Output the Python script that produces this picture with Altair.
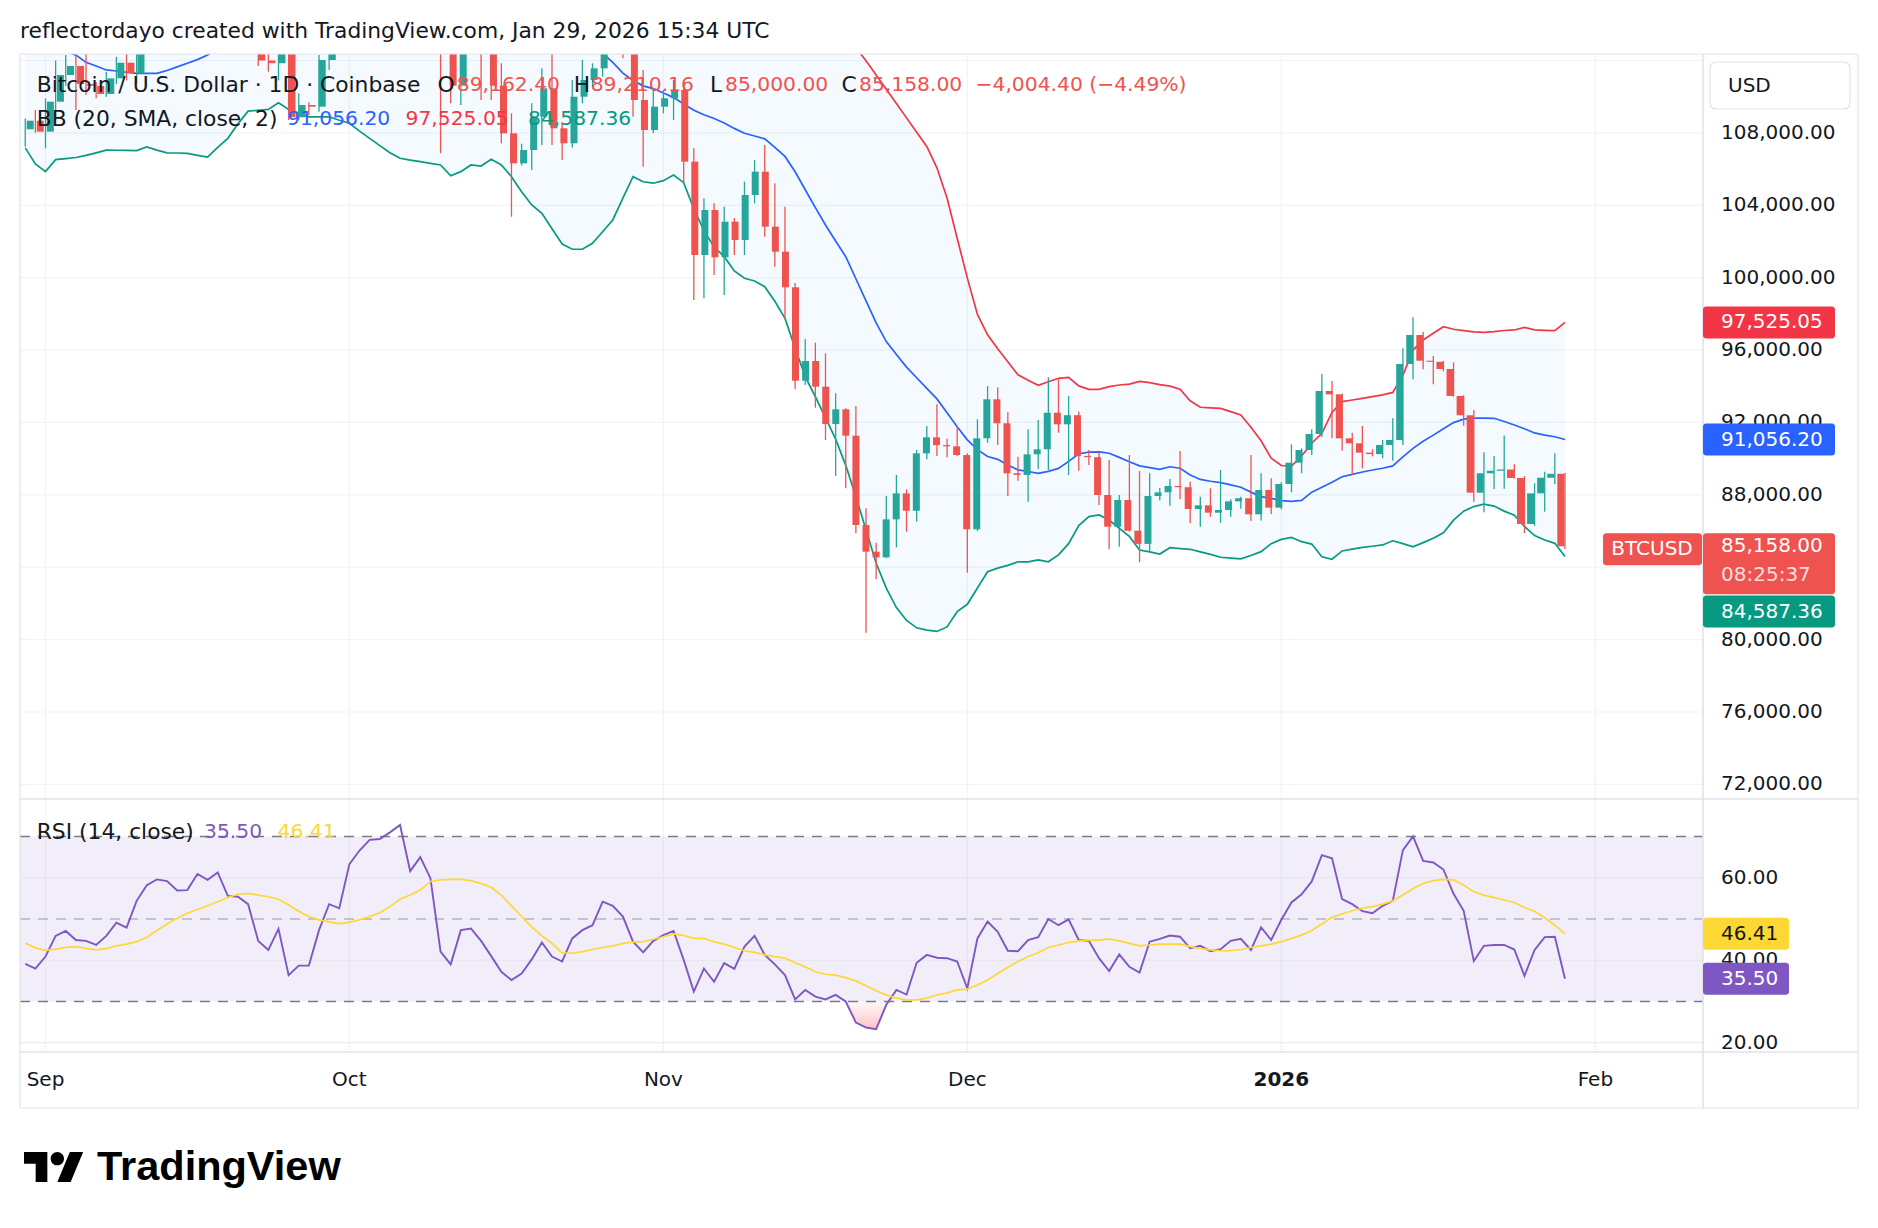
import altair as alt
import pandas as pd

# ------------------------------------------------------------------ data
dates = pd.date_range("2025-08-30", periods=153, freq="D").strftime("%Y-%m-%d").tolist()

open_ = [108199, 108674, 108066, 109724, 111200, 111700, 110700, 110600, 110150, 111017,
         111880, 111293, 113900, 115400, 116000, 115900, 115300, 115400, 116800, 116500,
         117100, 115700, 115750, 115300, 112000, 111850, 113300, 108862, 109542, 109448,
         112029, 114300, 114000, 118600, 120600, 122300, 122400, 123500, 124800, 121400,
         123300, 121700, 113200, 110609, 115200, 115300, 113100, 110609, 107978, 106320,
         107055, 108895, 110465, 108254, 107425, 110000, 110923, 111570, 114500, 114100,
         112900, 109818, 108160, 109448, 109912, 110371, 106409, 101253, 103740, 101126,
         103093, 102082, 104568, 105856, 102817, 101436, 99469, 94306, 95395, 93975,
         91914, 92726, 91268, 86332, 84857, 84547, 86645, 88082, 87121, 90295,
         91179, 90750, 90680, 90200, 86095, 91124, 93279, 91953, 89190, 89100,
         90238, 90515, 92538, 91897, 92400, 90150, 90080, 87990, 86237, 87714,
         86017, 85288, 87934, 88139, 88487, 88420, 87216, 87420, 87013, 87160,
         87640, 87810, 86924, 88267, 87290, 88598, 89775, 90477, 91361, 93737,
         93553, 91123, 90847, 90330, 90250, 90754, 91030, 95229, 96832, 95411,
         95350, 94953, 93460, 92395, 88118, 89190, 89330, 89400, 88932, 86388,
         88082, 88945, 89162.40]
high_ = [108800, 109265, 109900, 112000, 112300, 112300, 113300, 110800, 111382, 112200,
         113200, 114300, 115500, 116300, 116700, 116100, 116700, 117000, 117300, 117900,
         117500, 116300, 115900, 115400, 113300, 113900, 113500, 110186, 109700, 112305,
         114400, 114800, 118700, 121000, 123900, 122900, 125700, 126200, 125200, 124200,
         123800, 122500, 113400, 115700, 116000, 115900, 113600, 111846, 109083, 107400,
         109636, 111570, 114000, 108600, 110923, 112029, 111846, 115000, 116400, 116000,
         113600, 111476, 110371, 110371, 110923, 110700, 107149, 104386, 104110, 103922,
         103300, 105307, 106502, 107331, 105215, 103922, 99700, 96611, 96408, 95820,
         93610, 92780, 92908, 87255, 85354, 87934, 89095, 88306, 90480, 91802,
         92999, 91100, 91802, 90295, 92174, 94014, 93942, 92561, 90107, 91620,
         92135, 94494, 94384, 93461, 92600, 90477, 90383, 89924, 87990, 90201,
         89317, 89190, 88380, 88874, 90420, 88727, 87898, 88360, 89372, 87750,
         87898, 90201, 89190, 88911, 88700, 90792, 90570, 91620, 94676, 94290,
         93600, 91434, 91803, 90520, 91030, 92229, 96098, 97810, 97015, 95670,
         95400, 95320, 93500, 92687, 90350, 90145, 91280, 89687, 89040, 88638,
         89278, 90294, 89210.16]
low_ = [107237, 108000, 107149, 108700, 110600, 109265, 110094, 109912, 110000, 110700,
        110900, 110741, 113400, 114800, 115300, 114800, 114300, 114800, 114900, 116200,
        115200, 115600, 115200, 111700, 111380, 110900, 108713, 108713, 108989, 109172,
        111476, 112700, 113900, 118400, 119300, 121600, 122200, 123100, 120600, 121100,
        119700, 106872, 109636, 109542, 113700, 109818, 109818, 107425, 103369, 106200,
        105950, 107331, 107331, 106502, 107200, 109636, 110553, 111106, 113800, 112122,
        108895, 106133, 108000, 109083, 108713, 105215, 98766, 98860, 100147, 99042,
        101253, 101253, 104110, 102264, 100606, 97755, 93831, 94069, 92815, 91030,
        89040, 88361, 85874, 80381, 83332, 84492, 85100, 85962, 86530, 89963,
        90145, 90070, 90145, 83697, 86000, 90880, 90754, 87934, 88781, 87621,
        89427, 89370, 91433, 89094, 89330, 89648, 87437, 84996, 85133, 85963,
        84271, 84857, 87680, 87400, 87750, 86425, 86237, 86790, 86460, 86790,
        87234, 86554, 86580, 86941, 87200, 88140, 89190, 90200, 91200, 91123,
        90440, 89096, 89465, 90130, 90020, 89885, 90750, 94383, 94936, 94107,
        94830, 93422, 91820, 87620, 87034, 88305, 88340, 88900, 85874, 86290,
        87068, 88582, 85000.00]
close_ = [108674, 108066, 109724, 111200, 111700, 110700, 110600, 110150, 111017, 111880,
          111293, 113900, 115400, 116000, 115900, 115300, 115400, 116800, 116500, 117100,
          115700, 115750, 115300, 112000, 111850, 113300, 108862, 109542, 109448, 112029,
          114300, 114000, 118600, 120600, 122300, 122400, 123500, 124800, 121400, 123300,
          121700, 113200, 110609, 115200, 115300, 113100, 110609, 107978, 106320, 107055,
          108895, 110465, 108254, 107425, 110000, 110923, 111570, 114500, 114100, 112900,
          109818, 108160, 109448, 109912, 110371, 106409, 101253, 103740, 101126, 103093,
          102082, 104568, 105856, 102817, 101436, 99469, 94306, 95395, 93975, 91914,
          92726, 91268, 86332, 84857, 84547, 86645, 88082, 87121, 90295, 91179,
          90750, 90680, 90200, 86095, 91124, 93279, 91953, 89190, 89100, 90238,
          90515, 92538, 91897, 92400, 90150, 90080, 87990, 86237, 87714, 86017,
          85288, 87934, 88139, 88487, 88420, 87216, 87420, 87013, 87160, 87640,
          87810, 86924, 88267, 87290, 88598, 89775, 90477, 91361, 93737, 93553,
          91123, 90847, 90330, 90250, 90754, 91030, 95229, 96832, 95411, 95350,
          94953, 93460, 92395, 88118, 89190, 89330, 89400, 88932, 86388, 88082,
          88945, 89162.40, 85158.00]

bb_upper = [119500, 119200, 119000, 118800, 118400, 118000, 117200, 116600, 116000, 115800, 115700, 115600,
            115400, 115500, 116000, 116500, 116900, 117400, 118000, 118300, 118500, 118600,
            118700, 119000, 119300, 119500, 120000, 120400, 120400, 120200, 120100, 120100,
            120400, 121200, 122400, 123800, 125100, 126200, 127000, 128000, 128800, 129100,
            129500, 129200, 128500, 128300, 127300, 126800, 126400, 126200, 126000, 125700,
            125700, 125700, 125200, 124500, 123500, 122300, 120600, 118200, 116200, 115900,
            115700, 115100, 114300, 114000, 114700, 115400, 115900, 115900, 116100, 116000,
            115800, 115900, 115700, 115700, 116000, 115000, 114200, 113600, 113300, 113100,
            112700, 111990, 111200, 110410, 109620, 108830, 108040, 107250, 106070, 104400,
            102180, 99990, 97970, 96840, 96070, 95350, 94630, 94330, 94050, 94250,
            94440, 94490, 94020, 93830, 93830, 93980, 94070, 94120, 94270, 94200,
            94090, 94010, 93840, 93200, 92840, 92810, 92780, 92600, 92410, 91730,
            90990, 90030, 89620, 89580, 90150, 90850, 91400, 92550, 93150, 93240,
            93330, 93430, 93520, 93660, 94600, 96000, 96560, 96930, 97290, 97150,
            97070, 97000, 96980, 97020, 97080, 97110, 97250, 97120, 97090, 97070, 97525.05]
bb_basis = [113600, 113300, 113000, 112700, 112500, 112300, 111900, 111700, 111480, 111420, 111350, 111290,
            111290, 111290, 111450, 111650, 111850, 112050, 112300, 112700, 113100, 113500,
            113900, 114200, 114400, 114600, 114700, 114700, 114600, 114500, 114450, 114400,
            114450, 114700, 115000, 115400, 115900, 116400, 116800, 117200, 117600, 117700,
            117600, 117500, 117300, 117200, 116900, 116500, 116000, 115500, 115000, 114600,
            114200, 113800, 113400, 113000, 112700, 112400, 111900, 111300, 110900, 110600,
            110450, 110200, 109950, 109600, 109250, 109000, 108800, 108550, 108250, 107980,
            107830, 107670, 107200, 106700, 105850, 104860, 103870, 102910, 102030, 101160,
            99940, 98720, 97500, 96470, 95750, 95060, 94470, 93880, 93300, 92540,
            91765, 91040, 90500, 90120, 89960, 89650, 89380, 89290, 89190, 89300,
            89460, 89850, 90270, 90360, 90370, 90300, 90070, 89830, 89600, 89500,
            89410, 89550, 89470, 89100, 88850, 88750, 88670, 88550, 88420, 88150,
            87900, 87800, 87680, 87640, 87690, 88150, 88420, 88700, 89000, 89130,
            89260, 89370, 89470, 89600, 90100, 90570, 90960, 91300, 91650, 91990,
            92180, 92240, 92240, 92230, 92050, 91860, 91650, 91420, 91300, 91210, 91056.20]
bb_lower = [107170, 106280, 105860, 106520, 106580, 106640, 106760, 106900, 107050, 107040, 107030, 107020,
            107220, 107050, 106900, 106890, 106870, 106760, 106660, 107200, 107700, 108500,
            109200, 109250, 109300, 109670, 109300, 109100, 108890, 108890, 108890, 108700,
            108530, 108100, 107700, 107300, 106900, 106600, 106500, 106410, 106320, 106230,
            105630, 105860, 106230, 106170, 106540, 106230, 105580, 104750, 104020, 103560,
            102700, 101860, 101570, 101570, 101900, 102540, 103190, 104400, 105580, 105300,
            105220, 105360, 105670, 105250, 103800, 102600, 101700, 101160, 100370, 99970,
            99820, 99500, 98700, 97750, 96100, 94530, 93420, 92270, 91075, 89630,
            87900, 86060, 84220, 82850, 81770, 81060, 80650, 80520, 80450, 80700,
            81550, 81950, 82850, 83750, 83950, 84100, 84300, 84300, 84400, 84300,
            84680, 85300, 86300, 86800, 86890, 86610, 86150, 85700, 84950, 84850,
            84730, 85080, 85030, 84990, 84850, 84710, 84550, 84500, 84460, 84650,
            84860, 85300, 85540, 85650, 85410, 85280, 84580, 84440, 84900, 85000,
            85100, 85160, 85230, 85460, 85300, 85130, 85360, 85600, 85900, 86600,
            87100, 87350, 87490, 87380, 87100, 86880, 86250, 85750, 85500, 85320, 84587.36]

rsi = [39.1, 38.0, 40.9, 45.9, 47.1, 44.9, 44.7, 43.7, 45.9, 49.1, 47.9, 54.4,
       58.2, 59.6, 59.2, 56.9, 57.0, 60.9, 59.5, 61.3, 55.6, 55.4,
       53.6, 44.7, 42.5, 47.6, 36.4, 38.7, 38.7, 47.3, 53.6, 52.6,
       63.3, 66.6, 69.2, 69.4, 71.0, 72.8, 61.6, 65.0, 59.9, 42.1,
       39.0, 47.3, 47.7, 44.7, 41.0, 37.2, 35.2, 36.8, 40.2, 44.3,
       40.9, 39.7, 45.3, 47.3, 48.5, 54.2, 53.2, 50.6, 44.5, 41.9,
       44.7, 46.1, 47.1, 40.1, 32.4, 38.0, 34.8, 39.3, 37.9, 43.3,
       45.9, 41.3, 39.0, 36.4, 30.5, 32.8, 31.2, 30.5, 31.6, 30.0,
       24.9, 23.7, 23.3, 29.2, 32.8, 31.7, 39.4, 41.3, 40.6, 40.5,
       39.7, 33.2, 45.3, 49.4, 46.9, 42.3, 42.2, 44.9, 45.6, 50.0,
       48.5, 49.9, 44.9, 44.7, 40.5, 37.4, 41.4, 38.4, 37.0, 44.5,
       45.2, 46.0, 45.7, 42.9, 43.5, 42.2, 42.7, 44.7, 45.2, 42.5,
       48.0, 44.9, 49.8, 54.0, 56.0, 59.1, 65.5, 64.7, 54.8, 53.6,
       51.9, 51.4, 53.2, 54.4, 66.7, 70.0, 64.1, 63.7, 62.0, 56.1,
       52.0, 39.8, 43.5, 43.7, 43.7, 42.6, 36.2, 42.5, 45.6, 45.7, 35.50]
rsi_ma = [44.2, 43.0, 42.4, 42.7, 43.1, 43.3, 42.9, 42.5, 42.8, 43.5, 43.9, 44.5,
          45.6, 47.2, 48.8, 50.2, 51.4, 52.3, 53.2, 54.2, 55.2, 56.0,
          56.2, 55.8, 55.4, 54.8, 53.4, 51.9, 50.6, 49.8, 49.3, 48.9,
          49.2, 49.8, 50.6, 51.5, 53.0, 54.8, 55.8, 57.0, 59.1, 59.5,
          59.6, 59.6, 59.3, 58.6, 57.7, 55.8, 53.2, 50.6, 48.1, 45.9,
          44.1, 41.8, 41.7, 42.1, 42.6, 43.1, 43.5, 44.1, 44.4, 44.5,
          45.1, 45.7, 46.4, 46.0, 45.3, 45.3, 44.5, 43.9, 43.1, 42.3,
          41.9, 41.3, 40.9, 40.5, 39.4, 38.4, 37.2, 36.6, 36.4, 35.8,
          35.0, 33.8, 32.6, 31.6, 30.8, 30.4, 30.4, 30.8, 31.6, 32.1,
          32.8, 33.0, 34.0, 35.2, 36.8, 38.3, 39.7, 40.9, 41.8, 43.1,
          43.7, 44.3, 44.7, 44.9, 44.9, 45.2, 44.7, 44.1, 43.5, 43.7,
          43.9, 43.9, 43.9, 43.3, 42.9, 42.5, 42.3, 42.3, 42.6, 43.1,
          43.5, 43.9, 44.5, 45.3, 46.1, 47.2, 48.8, 50.4, 51.2, 52.0,
          52.6, 53.0, 53.6, 54.4, 55.8, 57.4, 58.6, 59.3, 59.6, 59.5,
          58.2, 56.6, 55.8, 55.2, 54.6, 54.0, 52.8, 51.9, 50.3, 48.5, 46.41]

price_grid = [72000, 76000, 80000, 84000, 88000, 92000, 96000, 100000, 104000, 108000, 112000]
price_ticks = [72000, 76000, 80000, 88000, 92000, 96000, 100000, 104000, 108000]  # 84,000 sits under the badges
rsi_ticks = [20, 40, 60]
month_dates = ["2025-09-01", "2025-10-01", "2025-11-01", "2025-12-01", "2026-01-01", "2026-02-01"]
month_labels = ["Sep", "Oct", "Nov", "Dec", "2026", "Feb"]
month_bold = [False, False, False, False, True, False]
countdown = "08:25:37"

# ------------------------------------------------------------------ layout / style
W, H = 1683, 998
PRICE_DOM, PRICE_RNG = [71302, 112360], [743, 0]
RSI_DOM, RSI_RNG = [17.76, 79.09], [998, 745]
PPU = (PRICE_DOM[1] - PRICE_DOM[0]) / (PRICE_RNG[0] - PRICE_RNG[1])
RPU = (RSI_DOM[1] - RSI_DOM[0]) / (RSI_RNG[0] - RSI_RNG[1])

UP, DOWN = "#26A69A", "#EF5350"
BB_UP, BB_MID, BB_LO = "#F23645", "#2962FF", "#089981"
RSI_C, MA_C = "#7E57C2", "#FDD835"
TXT, GRID, SEP = "#131722", "#F0F3FA", "#E0E3EB"
FONT = "DejaVu Sans"

XS = alt.Scale(type="utc",
               domain=[alt.DateTime(year=2025, month=8, date=29, hours=11, minutes=35, utc=True),
                       alt.DateTime(year=2026, month=2, date=11, hours=15, utc=True)],
               range=[0, W], nice=False)
PS = alt.Scale(domain=PRICE_DOM, range=PRICE_RNG, nice=False, zero=False)
RS = alt.Scale(domain=RSI_DOM, range=RSI_RNG, nice=False, zero=False)


def X():
    return alt.X("date:T", scale=XS, axis=None)


def YP(f):
    return alt.Y(f"{f}:Q", scale=PS, axis=None)


def YR(f):
    return alt.Y(f"{f}:Q", scale=RS, axis=None)


def PX(f="x"):
    return alt.X(f"{f}:Q", scale=None, axis=None)


def PY(f="y"):
    return alt.Y(f"{f}:Q", scale=None, axis=None)


one = pd.DataFrame({"k": [0]})
cdf = pd.DataFrame({"date": dates, "open": open_, "high": high_, "low": low_, "close": close_})
bdf = pd.DataFrame({"date": dates, "upper": bb_upper, "basis": bb_basis, "lower": bb_lower})
odf = pd.DataFrame({"date": dates, "rsi": rsi, "ma": rsi_ma})
mdf = pd.DataFrame({"date": month_dates, "label": month_labels, "bold": month_bold})

dircol = alt.condition("datum.close >= datum.open", alt.value(UP), alt.value(DOWN))

layers = []

# grids
layers.append(alt.Chart(pd.DataFrame({"v": price_grid})).mark_rule(color=GRID, strokeWidth=1.2)
              .encode(y=YP("v"), x=alt.value(0), x2=alt.value(W)))
layers.append(alt.Chart(mdf).mark_rule(color=GRID, strokeWidth=1.2)
              .encode(x=X(), y=alt.value(0), y2=alt.value(H)))

# RSI background band, grid and reference lines
layers.append(alt.Chart(pd.DataFrame({"hi": [70], "lo": [30]})).mark_rect(color=RSI_C, opacity=0.1)
              .encode(x=alt.value(0), x2=alt.value(W), y=YR("hi"), y2="lo:Q"))
layers.append(alt.Chart(pd.DataFrame({"v": rsi_ticks})).mark_rule(color="#E6E3EE", strokeWidth=1.2)
              .encode(y=YR("v"), x=alt.value(0), x2=alt.value(W)))
layers.append(alt.Chart(pd.DataFrame({"v": [70, 30]})).mark_rule(color="#787B86", strokeWidth=1.6, strokeDash=[10, 8])
              .encode(y=YR("v"), x=alt.value(0), x2=alt.value(W)))
layers.append(alt.Chart(pd.DataFrame({"v": [50]})).mark_rule(color="#B2B5BE", strokeWidth=1.6, strokeDash=[10, 8])
              .encode(y=YR("v"), x=alt.value(0), x2=alt.value(W)))

# Bollinger bands
layers.append(alt.Chart(bdf).mark_area(color="#2196F3", opacity=0.05, clip=True)
              .encode(x=X(), y=YP("upper"), y2="lower:Q"))
for col, c in (("upper", BB_UP), ("basis", BB_MID), ("lower", BB_LO)):
    layers.append(alt.Chart(bdf).mark_line(color=c, strokeWidth=1.7, clip=True)
                  .encode(x=X(), y=YP(col)))

# candles
layers.append(alt.Chart(cdf).mark_rule(strokeWidth=1.3, clip=True)
              .encode(x=X(), y=YP("low"), y2="high:Q", color=dircol))
layers.append(alt.Chart(cdf).mark_bar(size=7, clip=True)
              .encode(x=X(), y=YP("open"), y2="close:Q", color=dircol))

# RSI oversold fill + lines
grad = alt.Gradient(gradient="linear",
                    stops=[alt.GradientStop(color="rgba(242,54,69,0.03)", offset=0),
                           alt.GradientStop(color="rgba(242,54,69,0.30)", offset=1)],
                    x1=0, x2=0, y1=0, y2=1)
layers.append(alt.Chart(odf).transform_calculate(lo="min(datum.rsi, 30)", th="30")
              .mark_area(color=grad).encode(x=X(), y=YR("lo"), y2="th:Q"))
layers.append(alt.Chart(odf).mark_line(color=RSI_C, strokeWidth=1.9).encode(x=X(), y=YR("rsi")))
layers.append(alt.Chart(odf).mark_line(color=MA_C, strokeWidth=1.7).encode(x=X(), y=YR("ma")))

# frame and separators
layers.append(alt.Chart(one).mark_rect(fillOpacity=0, stroke=SEP, strokeWidth=1.2)
              .encode(x=alt.value(0), x2=alt.value(1838), y=alt.value(0), y2=alt.value(1054)))
layers.append(alt.Chart(one).mark_rule(color=SEP, strokeWidth=1.6)
              .encode(x=alt.value(W), y=alt.value(0), y2=alt.value(1054)))
for yy in (745, 998):
    layers.append(alt.Chart(one).mark_rule(color=SEP, strokeWidth=1.6)
                  .encode(y=alt.value(yy), x=alt.value(0), x2=alt.value(1838)))

# axis labels
layers.append(alt.Chart(pd.DataFrame({"v": price_ticks, "t": [f"{v:,.2f}" for v in price_ticks]}))
              .mark_text(align="left", baseline="middle", font=FONT, fontSize=20, color=TXT)
              .encode(x=alt.value(1701), y=YP("v"), text="t:N"))
layers.append(alt.Chart(pd.DataFrame({"v": rsi_ticks, "t": [f"{v:.2f}" for v in rsi_ticks]}))
              .mark_text(align="left", baseline="middle", font=FONT, fontSize=20, color=TXT)
              .encode(x=alt.value(1701), y=YR("v"), text="t:N"))
for is_bold in (False, True):
    layers.append(alt.Chart(mdf[mdf["bold"] == is_bold])
                  .mark_text(align="center", baseline="middle", font=FONT, fontSize=20, color=TXT,
                             fontWeight="bold" if is_bold else "normal")
                  .encode(x=X(), y=alt.value(1026), text="label:N"))

# USD box
layers.append(alt.Chart(one).mark_rect(color="white", stroke=SEP, strokeWidth=1.2, cornerRadius=6)
              .encode(x=alt.value(1690), x2=alt.value(1830), y=alt.value(8), y2=alt.value(55)))
layers.append(alt.Chart(one).mark_text(text="USD", align="left", baseline="middle", font=FONT, fontSize=20, color=TXT)
              .encode(x=alt.value(1708), y=alt.value(32)))

# price badges
last_o, last_h, last_l, last_c = open_[-1], high_[-1], low_[-1], close_[-1]
badge_rows = [
    (f"{bb_upper[-1]:,.2f}", bb_upper[-1], -16, 16, 0, BB_UP),
    (f"{bb_basis[-1]:,.2f}", bb_basis[-1], -16, 16, 0, BB_MID),
    (f"{last_c:,.2f}", last_c, -13, 48, 0, DOWN),
    (f"{bb_lower[-1]:,.2f}", bb_lower[-1], 39, 71, 55, BB_LO),
]
bdg = pd.DataFrame([{"t": t, "top": v - a * PPU, "bot": v - b * PPU, "ty": v - c * PPU, "fill": f}
                    for t, v, a, b, c, f in badge_rows])
layers.append(alt.Chart(bdg).mark_rect(cornerRadius=3)
              .encode(x=alt.value(W), x2=alt.value(1815), y=YP("top"), y2="bot:Q",
                      color=alt.Color("fill:N", scale=None)))
layers.append(alt.Chart(bdg).mark_text(align="left", baseline="middle", font=FONT, fontSize=20, color="white")
              .encode(x=alt.value(1701), y=YP("ty"), text="t:N"))
layers.append(alt.Chart(pd.DataFrame({"ty": [last_c - 29 * PPU], "t": [countdown]}))
              .mark_text(align="left", baseline="middle", font=FONT, fontSize=20, color="white", opacity=0.8)
              .encode(x=alt.value(1701), y=YP("ty"), text="t:N"))
# symbol badge
sym = pd.DataFrame({"top": [last_c + 13 * PPU], "bot": [last_c - 19 * PPU], "ty": [last_c - 3 * PPU], "t": ["BTCUSD"]})
layers.append(alt.Chart(sym).mark_rect(color=DOWN, cornerRadius=3)
              .encode(x=alt.value(1583), x2=alt.value(1682), y=YP("top"), y2="bot:Q"))
layers.append(alt.Chart(sym).mark_text(align="center", baseline="middle", font=FONT, fontSize=20, color="white")
              .encode(x=alt.value(1632), y=YP("ty"), text="t:N"))

# RSI badges
rb = pd.DataFrame([
    {"t": f"{rsi_ma[-1]:.2f}", "top": rsi_ma[-1] + 16 * RPU, "bot": rsi_ma[-1] - 16 * RPU, "ty": rsi_ma[-1], "fill": MA_C, "tc": TXT},
    {"t": f"{rsi[-1]:.2f}", "top": rsi[-1] + 16 * RPU, "bot": rsi[-1] - 16 * RPU, "ty": rsi[-1], "fill": RSI_C, "tc": "white"},
])
layers.append(alt.Chart(rb).mark_rect(cornerRadius=3)
              .encode(x=alt.value(W), x2=alt.value(1769), y=YR("top"), y2="bot:Q",
                      color=alt.Color("fill:N", scale=None)))
layers.append(alt.Chart(rb).mark_text(align="left", baseline="middle", font=FONT, fontSize=20)
              .encode(x=alt.value(1701), y=YR("ty"), text="t:N", color=alt.Color("tc:N", scale=None)))

# legends (names at 21.5px, numbers slightly narrower)
chg = last_c - close_[-2]
pct = chg / close_[-2] * 100
chg_txt = f"{chg:,.2f} ({pct:.2f}%)".replace("-", "\u2212")
leg_names = pd.DataFrame([
    {"t": "Bitcoin / U.S. Dollar \u00b7 1D \u00b7 Coinbase", "x": 16.7, "y": 31, "c": TXT},
    {"t": "O", "x": 417.6, "y": 31, "c": TXT},
    {"t": "H", "x": 553.8, "y": 31, "c": TXT},
    {"t": "L", "x": 690, "y": 31, "c": TXT},
    {"t": "C", "x": 821.6, "y": 31, "c": TXT},
    {"t": "BB (20, SMA, close, 2)", "x": 16.7, "y": 64.5, "c": TXT},
    {"t": "RSI (14, close)", "x": 16.7, "y": 777.7, "c": TXT},
])
leg_vals = pd.DataFrame([
    {"t": f"{last_o:,.2f}", "x": 436.8, "y": 31, "c": DOWN},
    {"t": f"{last_h:,.2f}", "x": 570.7, "y": 31, "c": DOWN},
    {"t": f"{last_l:,.2f}", "x": 705, "y": 31, "c": DOWN},
    {"t": f"{last_c:,.2f}", "x": 839, "y": 31, "c": DOWN},
    {"t": chg_txt, "x": 955.5, "y": 31, "c": DOWN},
    {"t": f"{bb_basis[-1]:,.2f}", "x": 267, "y": 64.5, "c": BB_MID},
    {"t": f"{bb_upper[-1]:,.2f}", "x": 385.5, "y": 64.5, "c": BB_UP},
    {"t": f"{bb_lower[-1]:,.2f}", "x": 508, "y": 64.5, "c": BB_LO},
    {"t": f"{rsi[-1]:.2f}", "x": 184, "y": 777.7, "c": RSI_C},
    {"t": f"{rsi_ma[-1]:.2f}", "x": 257.6, "y": 777.7, "c": MA_C},
])
layers.append(alt.Chart(leg_names).mark_text(align="left", baseline="middle", font=FONT, fontSize=21.8)
              .encode(x=PX(), y=PY(), text="t:N", color=alt.Color("c:N", scale=None)))
layers.append(alt.Chart(leg_vals).mark_text(align="left", baseline="middle", font=FONT, fontSize=20.3)
              .encode(x=PX(), y=PY(), text="t:N", color=alt.Color("c:N", scale=None)))

# title
layers.append(alt.Chart(one).mark_text(text="reflectordayo created with TradingView.com, Jan 29, 2026 15:34 UTC",
                                       align="left", baseline="middle", font=FONT, fontSize=21.8, color=TXT)
              .encode(x=alt.value(0), y=alt.value(-23)))

# logo
logo_path = ("M-1,-0.5 L-0.222,-0.5 L-0.222,0.5 L-0.611,0.5 L-0.611,-0.111 L-1,-0.111 Z "
             "M-0.111,-0.278 A0.222,0.222 0 1,0 0.333,-0.278 A0.222,0.222 0 1,0 -0.111,-0.278 Z "
             "M0.111,0.5 L0.528,-0.5 L0.972,-0.5 L0.556,0.5 Z")
layers.append(alt.Chart(one).mark_point(shape=logo_path, filled=True, size=3600, color="#000000", opacity=1)
              .encode(x=alt.value(34), y=alt.value(1113)))
layers.append(alt.Chart(one).mark_text(text="TradingView", align="left", baseline="middle",
                                       font="Liberation Sans", fontWeight="bold", fontSize=41.5, color="#000000")
              .encode(x=alt.value(77), y=alt.value(1114)))

chart = (alt.layer(*layers)
         .resolve_scale(x="independent", y="independent", color="independent")
         .properties(width=W, height=H,
                     padding={"left": 20, "top": 54, "right": 175, "bottom": 176},
                     autosize=alt.AutoSizeParams(type="none"),
                     background="white")
         .configure_view(strokeWidth=0))

chart.save("out.html", embed_options={"renderer": "svg", "actions": False})
